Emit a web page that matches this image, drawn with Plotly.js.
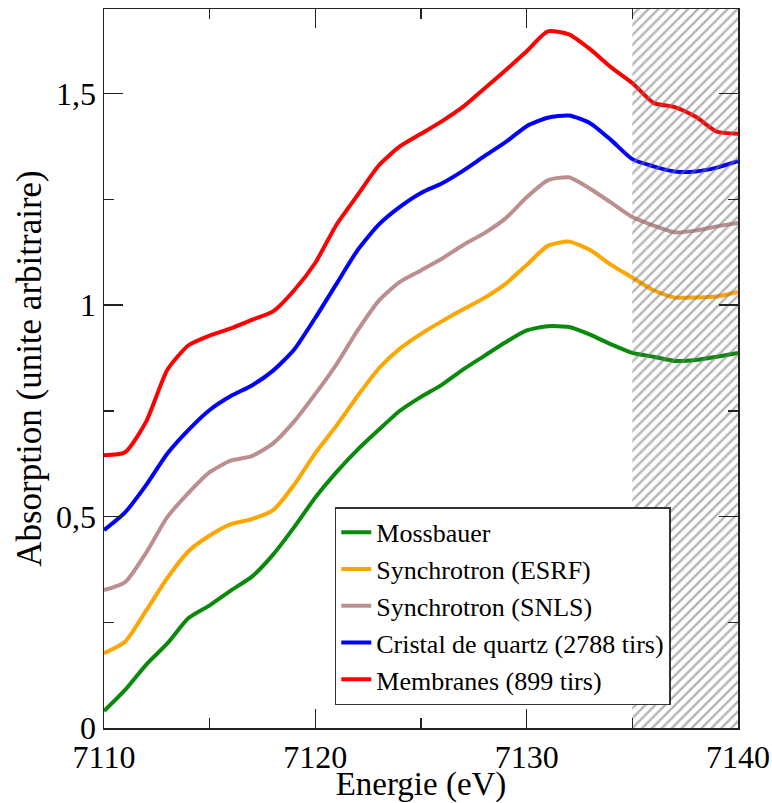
<!DOCTYPE html>
<html>
<head>
<meta charset="utf-8">
<script src="https://cdn.plot.ly/plotly-3.0.1.min.js"></script>
<style>html,body{margin:0;padding:0;background:#fff;}#chart{width:772px;height:803px;}</style>
</head>
<body>
<div id="chart"></div>
<script>
// Energy grid (eV)
const energy = [7110,7111,7112,7113,7114,7115,7116,7117,7118,7119,7120,7121,7122,7123,7124,7125,7126,7127,7128,7129,7130,7131,7132,7133,7134,7135,7136,7137,7138,7139,7140];

const mossbauer = [0.04,0.09,0.15,0.20,0.26,0.29,0.325,0.358,0.41,0.475,0.545,0.605,0.658,0.705,0.75,0.783,0.812,0.848,0.88,0.912,0.94,0.95,0.948,0.93,0.907,0.887,0.878,0.868,0.87,0.878,0.887];
const esrf = [0.177,0.204,0.278,0.355,0.418,0.455,0.482,0.494,0.515,0.575,0.65,0.715,0.785,0.85,0.897,0.932,0.962,0.99,1.017,1.05,1.095,1.14,1.15,1.13,1.095,1.065,1.035,1.018,1.018,1.02,1.031];
const snls = [0.326,0.345,0.415,0.499,0.556,0.605,0.632,0.643,0.673,0.725,0.79,0.86,0.94,1.01,1.055,1.082,1.11,1.142,1.17,1.205,1.255,1.295,1.302,1.275,1.242,1.208,1.188,1.172,1.176,1.186,1.194];
const quartz = [0.468,0.51,0.575,0.649,0.705,0.752,0.785,0.81,0.845,0.895,0.97,1.05,1.13,1.19,1.232,1.265,1.288,1.318,1.352,1.385,1.423,1.443,1.448,1.43,1.39,1.345,1.328,1.316,1.316,1.325,1.34];
const membranes = [0.645,0.652,0.725,0.847,0.905,0.928,0.945,0.965,0.985,1.035,1.10,1.19,1.26,1.33,1.375,1.405,1.435,1.469,1.512,1.555,1.60,1.647,1.64,1.605,1.562,1.525,1.478,1.468,1.445,1.41,1.405];

const seriesNames = ["Mossbauer","Synchrotron (ESRF)","Synchrotron (SNLS)","Cristal de quartz (2788 tirs)","Membranes (899 tirs)"];
const seriesColors = ["#0a8a0a","#ffa500","#bc8f8f","#0000ff","#ff0000"];

const hatchRange = [7135, 7140];
const xRange = [7110, 7140];
const yRange = [0, 1.7];

const xTickVals = [7110, 7120, 7130, 7140];
const xTickText = ["7110", "7120", "7130", "7140"];
const yTickVals = [0, 0.5, 1, 1.5];
const yTickText = ["0", "0,5", "1", "1,5"];

const serif = "Liberation Serif, Times New Roman, serif";
const allY = [mossbauer, esrf, snls, quartz, membranes];

const traces = allY.map((ys, i) => ({
  type: "scatter", mode: "lines", x: energy, y: ys, name: seriesNames[i],
  line: {color: seriesColors[i], width: 4, shape: "spline", smoothing: 0.6}
}));

traces.push({
  type: "scatter", mode: "lines",
  x: [hatchRange[0], hatchRange[1], hatchRange[1], hatchRange[0], hatchRange[0]],
  y: [yRange[0], yRange[0], yRange[1], yRange[1], yRange[0]],
  fill: "toself", fillcolor: "rgba(0,0,0,0)",
  fillpattern: {shape: "/", fgcolor: "rgba(120,120,120,0.55)", bgcolor: "rgba(0,0,0,0)", size: 7, solidity: 0.35},
  line: {width: 0}, showlegend: false, hoverinfo: "skip"
});

const axisCommon = {
  showline: true, linecolor: "#222", linewidth: 1.5, mirror: "allticks",
  ticks: "inside", ticklen: 19, tickwidth: 1.5, tickcolor: "#222",
  showgrid: false, zeroline: false,
  tickfont: {family: serif, size: 32, color: "#000"}
};

const layout = {
  width: 772, height: 803,
  margin: {l: 104, r: 34, t: 9, b: 75},
  paper_bgcolor: "#fff", plot_bgcolor: "#fff",
  font: {family: serif, color: "#000"},
  showlegend: true,
  xaxis: Object.assign({}, axisCommon, {
    range: xRange, tickmode: "array", tickvals: xTickVals, ticktext: xTickText,
    minor: {dtick: 5, ticks: "inside", ticklen: 10, tickwidth: 1.5, tickcolor: "#222"},
    title: {text: "Energie (eV)", font: {family: serif, size: 33, color: "#000"}, standoff: 0}
  }),
  yaxis: Object.assign({}, axisCommon, {
    range: yRange, tickmode: "array", tickvals: yTickVals, ticktext: yTickText,
    minor: {dtick: 0.25, ticks: "inside", ticklen: 10, tickwidth: 1.5, tickcolor: "#222"},
    title: {text: "Absorption (unite arbitraire)", font: {family: serif, size: 35, color: "#000"}, standoff: 4}
  }),
  legend: {
    x: 0.364, y: 0.307, xanchor: "left", yanchor: "top",
    bgcolor: "#fff", bordercolor: "#333", borderwidth: 1.5,
    font: {family: serif, size: 26, color: "#000"}
  },
  shapes: [{
    type: "rect", xref: "paper", yref: "paper", layer: "above",
    x0: (338 - 104) / 634, x1: (671 - 104) / 634,
    y0: (728 - 703) / 719, y1: (728 - 511) / 719,
    fillcolor: "#8a8a8a", line: {width: 0}
  }]
};

Plotly.newPlot("chart", traces, layout, {displayModeBar: false, staticPlot: true});
</script>
</body>
</html>
